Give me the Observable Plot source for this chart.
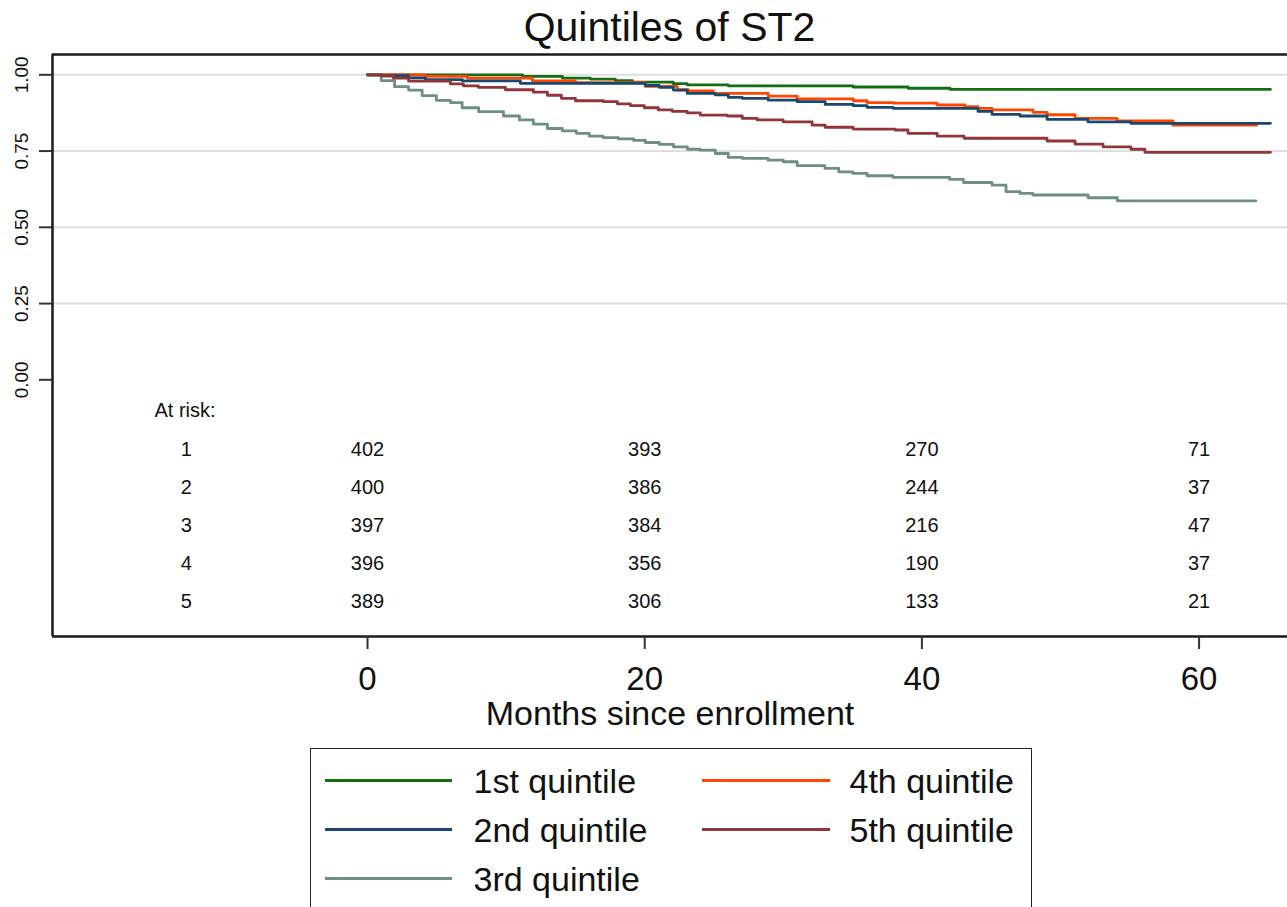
<!DOCTYPE html>
<html><head><meta charset="utf-8">
<script src="https://cdn.jsdelivr.net/npm/d3@7"></script>
<script src="https://cdn.jsdelivr.net/npm/@observablehq/plot@0.6"></script>
<style>
body{margin:0;background:#fff;font-family:"Liberation Sans",Arial,sans-serif;}
#wrap{position:relative;width:1287px;height:907px;overflow:hidden;background:#fff;}
#chart{position:absolute;left:0;top:0;}
#title{position:absolute;left:52px;top:0;width:1235px;height:54px;line-height:54px;text-align:center;font-size:41px;color:#111;}
#legend{position:absolute;left:310px;top:748px;width:722px;height:200px;border:1.5px solid #222;box-sizing:border-box;}
.li{position:absolute;height:3px;}
.lt{position:absolute;font-size:34px;line-height:40px;color:#111;white-space:nowrap;}
</style></head><body>
<div id="wrap"><div id="chart"></div><div id="title">Quintiles of ST2</div><div id="legend"></div></div>
<script>
// ---- data ----
const seriesNames = ["1st quintile", "2nd quintile", "3rd quintile", "4th quintile", "5th quintile"];
const seriesColors = ["#146e14", "#1a476f", "#6e8e84", "#ff4500", "#90353b"];

const monthsQ1 = [0, 11.18, 14.06, 16.08, 17.88, 19.11, 22.06, 23.07, 26.03, 35.04, 39.0, 42.03, 65.15];
const survQ1   = [1.0, 0.995, 0.989, 0.986, 0.981, 0.976, 0.971, 0.967, 0.964, 0.960, 0.956, 0.952, 0.952];

const monthsQ2 = [0, 1.0, 2.96, 4.18, 6.85, 11.03, 20.04, 21.05, 22.07, 23.07, 25.09, 26.03, 27.04, 28.91, 31.0, 33.02, 35.04, 36.05, 37.92, 44.05, 45.06, 47.08, 49.03, 51.98, 55.08, 65.15];
const survQ2   = [1.0, 0.997, 0.990, 0.984, 0.980, 0.972, 0.965, 0.959, 0.950, 0.939, 0.934, 0.926, 0.923, 0.917, 0.912, 0.903, 0.899, 0.893, 0.890, 0.880, 0.870, 0.865, 0.854, 0.846, 0.841, 0.841];

const monthsQ3 = [0, 0.99, 1.95, 2.96, 3.94, 4.97, 5.98, 6.83, 8.02, 9.81, 10.96, 11.97, 12.98, 14.06, 15.07, 16.0, 17.0, 18.1, 19.2, 20.04, 21.05, 22.07, 23.08, 24.0, 25.1, 26.03, 27.04, 28.9, 30.0, 31.0, 33.0, 34.0, 35.0, 36.05, 37.9, 42.0, 43.0, 45.06, 46.07, 47.08, 48.0, 52.0, 54.1, 64.1];
const survQ3   = [1.0, 0.981, 0.961, 0.950, 0.932, 0.916, 0.909, 0.892, 0.879, 0.865, 0.852, 0.838, 0.824, 0.816, 0.808, 0.799, 0.794, 0.790, 0.785, 0.778, 0.772, 0.764, 0.756, 0.753, 0.742, 0.729, 0.726, 0.720, 0.715, 0.702, 0.693, 0.682, 0.677, 0.669, 0.664, 0.657, 0.647, 0.638, 0.617, 0.611, 0.606, 0.597, 0.587, 0.587];

const monthsQ4 = [0, 4.18, 7.21, 11.9, 15.0, 20.04, 22.35, 23.14, 24.95, 28.91, 31.0, 35.04, 36.05, 37.92, 41.1, 43.11, 44.05, 45.06, 48.02, 49.03, 51.05, 54.07, 58.11, 64.15];
const survQ4   = [1.0, 0.995, 0.989, 0.980, 0.974, 0.962, 0.951, 0.947, 0.939, 0.930, 0.921, 0.915, 0.909, 0.907, 0.901, 0.896, 0.890, 0.885, 0.877, 0.869, 0.857, 0.849, 0.835, 0.835];

const monthsQ5 = [0, 1.0, 1.87, 2.96, 5.98, 6.92, 8.0, 9.95, 11.97, 12.98, 13.99, 15.0, 17.02, 18.03, 18.96, 19.97, 20.98, 21.99, 23.07, 24.01, 25.96, 27.04, 28.12, 29.99, 32.08, 33.02, 35.04, 38.07, 39.0, 41.1, 43.04, 49.03, 51.05, 53.07, 55.08, 56.09, 65.15];
const survQ5   = [1.0, 0.997, 0.989, 0.979, 0.970, 0.964, 0.959, 0.951, 0.943, 0.933, 0.923, 0.915, 0.912, 0.905, 0.899, 0.892, 0.885, 0.880, 0.875, 0.868, 0.865, 0.857, 0.852, 0.846, 0.835, 0.828, 0.822, 0.819, 0.808, 0.799, 0.792, 0.783, 0.773, 0.764, 0.756, 0.746, 0.746];

const riskTimes = [0, 20, 40, 60];
const riskGroups = ["1", "2", "3", "4", "5"];
const riskQ1 = [402, 393, 270, 71];
const riskQ2 = [400, 386, 244, 37];
const riskQ3 = [397, 384, 216, 47];
const riskQ4 = [396, 356, 190, 37];
const riskQ5 = [389, 306, 133, 21];

const xTicks = [0, 20, 40, 60];
const yTicks = [0, 0.25, 0.5, 0.75, 1.0];
const yGrid = [0.25, 0.5, 0.75, 1.0];
const xLabel = "Months since enrollment";
const riskTitle = "At risk:";

// ---- build ----
const monthsAll = [monthsQ1, monthsQ2, monthsQ3, monthsQ4, monthsQ5];
const survAll = [survQ1, survQ2, survQ3, survQ4, survQ5];
const riskAll = [riskQ1, riskQ2, riskQ3, riskQ4, riskQ5];
const drawOrder = [0, 3, 1, 2, 4];
const curveData = drawOrder.flatMap(k => monthsAll[k].map((m, i) => ({q: seriesNames[k], t: m, s: survAll[k][i]})));

const xDom = [-22.73, 66.38];
const yDom = [-0.8416, 1.0666];
const rowY0 = -0.2295, rowStep = 0.1241;
const riskData = riskAll.flatMap((r, i) => riskTimes.map((t, j) => ({t, row: i, n: r[j]})));

const font = '"Liberation Sans", Arial, sans-serif';
const chart = Plot.plot({
  width: 1287, height: 740,
  marginLeft: 52, marginRight: 0, marginTop: 54, marginBottom: 104,
  x: {domain: xDom},
  y: {domain: yDom},
  color: {domain: seriesNames, range: seriesColors},
  style: {fontFamily: font, color: "#111", background: "transparent", overflow: "visible"},
  marks: [
    Plot.ruleY(yGrid, {stroke: "#dedede", strokeWidth: 2}),
    Plot.ruleY([yDom[1]], {stroke: "#1a1a1a", strokeWidth: 2.5}),
    Plot.ruleY([yDom[0]], {stroke: "#1a1a1a", strokeWidth: 2.5}),
    Plot.ruleX([xDom[0]], {stroke: "#1a1a1a", strokeWidth: 2.5}),
    Plot.axisY({ticks: yTicks, tickSize: 13, tickFormat: () => "", label: null, stroke: "#333", strokeWidth: 2}),
    Plot.text(yTicks, {y: d => d, frameAnchor: "left", dx: -31, rotate: -90, text: d => d3.format(".2f")(d), fontSize: 19, textAnchor: "middle", fill: "#111"}),
    Plot.axisX({ticks: xTicks, tickSize: 13, tickPadding: 17, fontSize: 33, label: null, stroke: "#333", strokeWidth: 2, fill: "#111"}),
    Plot.text([xLabel], {frameAnchor: "bottom", dy: 88, lineAnchor: "bottom", fontSize: 34, fill: "#111"}),
    Plot.line(curveData, {x: "t", y: "s", z: "q", stroke: "q", curve: "step-after", strokeWidth: 2.8}),
    Plot.text([riskTitle], {x: -15.37, y: -0.1023, textAnchor: "start", fontSize: 20, fill: "#111"}),
    Plot.text(riskGroups, {x: -13.08, y: (d, i) => rowY0 - i * rowStep, text: d => d, fontSize: 20, fill: "#111"}),
    Plot.text(riskData, {x: "t", y: d => rowY0 - d.row * rowStep, text: "n", fontSize: 20, fill: "#111"})
  ]
});
document.getElementById("chart").appendChild(chart);

// legend
const leg = document.getElementById("legend");
const rowsY = [781, 830, 879];
seriesNames.forEach((name, i) => {
  const col = i < 3 ? 0 : 1, row = i < 3 ? i : i - 3;
  const lineL = col === 0 ? 325 : 702, lineW = col === 0 ? 127 : 128, textL = col === 0 ? 474 : 850;
  const line = document.createElement("div");
  line.className = "li";
  line.style.left = (lineL - 311.5) + "px";
  line.style.width = lineW + "px";
  line.style.top = (rowsY[row] - 1.5 - 749.5) + "px";
  line.style.background = seriesColors[i];
  leg.appendChild(line);
  const t = document.createElement("div");
  t.className = "lt";
  t.style.left = (textL - 311.5) + "px";
  t.style.top = (rowsY[row] - 19.6 - 749.5) + "px";
  t.textContent = name;
  leg.appendChild(t);
});
</script>
</body></html>
